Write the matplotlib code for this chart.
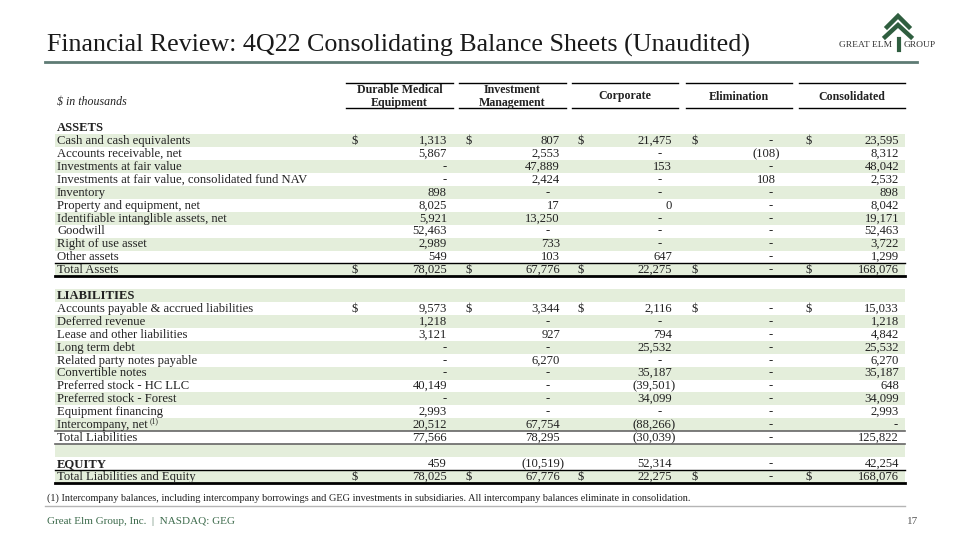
import matplotlib.pyplot as plt

plt.rcParams['font.family'] = ['Liberation Serif', 'DejaVu Serif']

# ---- data -------------------------------------------------------------
columns = ["Durable Medical\nEquipment", "Investment\nManagement", "Corporate",
           "Elimination", "Consolidated"]

row_labels = ["ASSETS", "Cash and cash equivalents", "Accounts receivable, net",
              "Investments at fair value",
              "Investments at fair value, consolidated fund NAV", "Inventory",
              "Property and equipment, net", "Identifiable intanglible assets, net",
              "Goodwill", "Right of use asset", "Other assets", "Total Assets", "",
              "LIABILITIES", "Accounts payable & accrued liabilities",
              "Deferred revenue", "Lease and other liabilities", "Long term debt",
              "Related party notes payable", "Convertible notes",
              "Preferred stock - HC LLC", "Preferred stock - Forest",
              "Equipment financing", "Intercompany, net",
              "Total Liabilities", "", "EQUITY", "Total Liabilities and Equity"]

# None -> "-", "" -> empty cell
durable = ["", 1313, 5867, None, None, 898, 8025, 5921, 52463, 2989, 549, 78025, "",
           "", 9573, 1218, 3121, None, None, None, 40149, None, 2993, 20512, 77566, "",
           459, 78025]
investment = ["", 807, 2553, 47889, 2424, None, 17, 13250, None, 733, 103, 67776, "",
              "", 3344, None, 927, None, 6270, None, None, None, None, 67754, 78295, "",
              -10519, 67776]
corporate = ["", 21475, None, 153, None, None, 0, None, None, None, 647, 22275, "",
             "", 2116, None, 794, 25532, None, 35187, -39501, 34099, None, -88266,
             -30039, "", 52314, 22275]
elimination = ["", None, -108, None, 108, None, None, None, None, None, None, None, "",
               "", None, None, None, None, None, None, None, None, None, None, None, "",
               None, None]
consolidated = ["", 23595, 8312, 48042, 2532, 898, 8042, 19171, 52463, 3722, 1299,
                168076, "", "", 15033, 1218, 4842, 25532, 6270, 35187, 648, 34099,
                2993, None, 125822, "", 42254, 168076]

section_rows = ["ASSETS", "LIABILITIES", "EQUITY"]
dollar_rows = [1, 11, 14, 27]
footnote_row = "Intercompany, net"

footnote = ("(1) Intercompany balances, including intercompany borrowings and GEG "
            "investments in subsidiaries. All intercompany balances eliminate in "
            "consolidation.")

# ---- layout -----------------------------------------------------------
col_left = [346, 459, 572, 686, 799]
col_right = [453, 566, 678, 792, 905]
num_right = [447, 560, 672, 776, 899]
dash_x = [445, 548, 660, 771, 896]
row_y0, row_h = 128, 12.9
green = "#e4eedb"
txt = "#222222"
fs = 9.1
base = 3.3  # baseline offset from row centre


def fmt(v):
    if v is None:
        return "-"
    if v < 0:
        return f"({-v:,})"
    return f"{v:,}"


fig = plt.figure(figsize=(9.6, 5.4), dpi=100)
ax = fig.add_axes([0, 0, 1, 1])
ax.set_xlim(0, 960)
ax.set_ylim(540, 0)
ax.axis("off")
renderer = fig.canvas.get_renderer()

# title + logo
ax.text(47, 45, "Financial Review: 4Q22 Consolidating Balance Sheets (Unaudited)",
        fontsize=18.7, color="#1a1a1a", va="center", ha="left")
ax.plot([45, 917], [62, 62], color="#5e7b74", lw=2)
tree = "#2f5e3f"
ax.plot([887, 898, 909], [27, 16, 27], color=tree, lw=3.2, solid_joinstyle="miter")
ax.plot([885, 898, 911], [37, 25, 37], color=tree, lw=3.2, solid_joinstyle="miter")
ax.plot([898.5, 898.5], [39, 50], color=tree, lw=3)
ax.text(892, 45, "GREAT ELM", fontsize=6.8, color="#333333", ha="right", va="center")
ax.text(904, 45, "GROUP", fontsize=6.8, color="#333333", ha="left", va="center")

# header
ax.text(57, 102, r"\$ in thousands", fontsize=8.6, style="italic", color=txt,
        va="center")
for i, name in enumerate(columns):
    ax.plot([col_left[i], col_right[i]], [83, 83], color="black", lw=1)
    ax.plot([col_left[i], col_right[i]], [108, 108], color="black", lw=1)
    cx = (col_left[i] + col_right[i]) / 2
    ax.text(cx, 96.5, name, fontsize=8.6, fontweight="bold", color=txt, ha="center",
            va="center", linespacing=1.05)

# rows
cols = [durable, investment, corporate, elimination, consolidated]
for r, label in enumerate(row_labels):
    y = row_y0 + r * row_h
    yb = round(y + base)
    if r % 2 == 1:
        ax.add_patch(plt.Rectangle((55, y - row_h / 2), 850, row_h, color=green,
                                   lw=0, zorder=0))
    bold = label in section_rows
    t = ax.text(57, yb, label, fontsize=fs, color=txt, va="baseline",
                fontweight="bold" if bold else "normal")
    if label == footnote_row:
        bb = t.get_window_extent(renderer)
        ax.text(57 + bb.width + 2, yb - 5, "(1)", fontsize=5.5, color=txt,
                va="baseline")
    for c, vals in enumerate(cols):
        v = vals[r]
        if r in dollar_rows:
            ax.text(col_left[c] + 6, yb, r"\$", fontsize=fs, color=txt,
                    va="baseline")
        if v == "":
            continue
        if v is None:
            ax.text(dash_x[c], yb, "-", fontsize=fs, color=txt, va="baseline",
                    ha="center")
        else:
            x = num_right[c] + (4 if v < 0 else 0)
            ax.text(x, yb, fmt(v), fontsize=fs, color=txt, va="baseline", ha="right")


# table rules
def hline(r, lw, color="black"):
    y = row_y0 + (r + 0.5) * row_h
    ax.plot([55, 905], [y, y], color=color, lw=lw)


hline(10, 1.0)
hline(11, 2.0)
hline(23, 1.2, "#666666")
hline(24, 1.2, "#666666")
hline(26, 1.0)
hline(27, 2.0)

# footnote + footer
ax.text(47, 498, footnote, fontsize=7.35, color=txt, va="center")
ax.plot([45, 905], [506, 506], color="#b5b5b5", lw=1)
ax.text(47, 522, "Great Elm Group, Inc.  |  NASDAQ: GEG", fontsize=8,
        color="#3d6b4c", va="center")
ax.text(918, 522, "17", fontsize=8, color="#555555", va="center", ha="right")

fig.savefig("out.png", dpi=100)
